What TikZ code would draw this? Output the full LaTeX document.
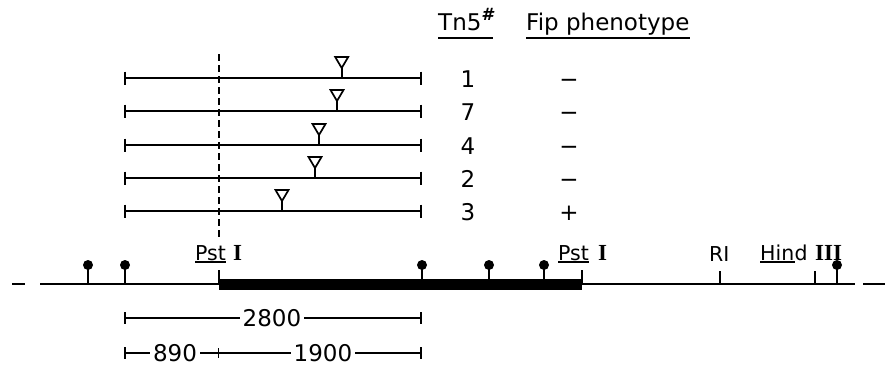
\documentclass[tikz,border=0pt]{standalone}
\usepackage{fontspec}
\setmainfont{DejaVu Sans}
\newfontfamily\romfont{Liberation Serif}
\begin{document}
\begin{tikzpicture}[x=1pt,y=-1pt,
  map/.style={line width=1.7pt},
  dim/.style={line width=1.3pt},
  big/.style={font=\fontsize{23}{25}\selectfont, inner sep=0pt},
  small/.style={font=\fontsize{20.5}{22}\selectfont, inner sep=0pt},
  roman/.style={font=\fontsize{23}{25}\romfont\bfseries, inner sep=0pt},
  dimlabel/.style={big, inner xsep=3pt},
  lolli/.style={map},
  sitetick/.style={map}]
\useasboundingbox (0,0) rectangle (885,367);

% column headings
\node[big,anchor=base west] (tn) at (438,30)
  {Tn5\raisebox{0.40em}{\fontsize{17}{17}\selectfont\bfseries\itshape\#}};
\draw[dim] ([yshift=-8pt]tn.base west) -- ([yshift=-8pt]tn.base east);
\node[big,anchor=base west] (fip) at (526,30) {Fip phenotype};
\draw[dim] ([yshift=-8pt]fip.base west) -- ([yshift=-8pt]fip.base east);

% cloned fragments with Tn5 insertion sites
\foreach \y/\t/\n/\p in {78/341.7/1/−, 111/337/7/−, 145/319/4/−, 178/315/2/−, 211/282/3/+}{
  \draw[map] (125,\y) coordinate (L\n) -- (421,\y) coordinate (R\n);
  \draw[map] (L\n) ++(0,-6.5) -- ++(0,13);
  \draw[map] (R\n) ++(0,-6.5) -- ++(0,13);
  \draw[map] (\t,\y) coordinate (ins\n) -- ++(0,-10) coordinate (tip\n);
  \draw[map,line join=miter] (tip\n) -- ++(-6.5,-11) -- ++(13,0) -- cycle;
  \node[big,anchor=base] (num\n) at (468,\y+9) {\n};
  \node[big,anchor=base] (phe\n) at (569,\y+9) {\p};
}

% PstI boundary (dashed guide)
\draw[map,dash pattern=on 7pt off 4pt] (219,54) -- (219,238);

% restriction map
\draw[map] (12,284) -- (25,284);
\draw[map] (40,284) coordinate (mapL) -- (855,284) coordinate (mapR);
\draw[map] (863,284) -- (885,284);
\fill (219,279) rectangle (582,290);

\draw[sitetick] (219,270) -- (219,284);
\draw[sitetick] (582,270) -- (582,284);
\draw[sitetick] (720,271) -- (720,284);
\draw[sitetick] (815,271) -- (815,284);

\foreach \x in {88,125,422,489,544,837}{
  \fill (\x,265) circle (5);
  \draw[lolli] (\x,265) -- (\x,284);
}

% site labels
\node[small,anchor=base west] (pstA) at (195,260) {Pst};
\draw[dim] ([yshift=-2pt]pstA.base west) -- ([yshift=-2pt]pstA.base east);
\node[roman,anchor=base west] (pstAi) at (233,260) {I};
\node[small,anchor=base west] (pstB) at (558,260) {Pst};
\draw[dim] ([yshift=-2pt]pstB.base west) -- ([yshift=-2pt]pstB.base east);
\node[roman,anchor=base west] (pstBi) at (598,260) {I};
\node[small,anchor=base west] (ri) at (709,261) {RI};
\node[small,anchor=base west] (hin) at (760,260) {Hin};
\draw[dim] ([yshift=-2pt]hin.base west) -- ([yshift=-2pt]hin.base east);
\node[small,anchor=base west] (hind) at (hin.base east) {d};
\node[roman,anchor=base west] (hindiii) at (815,260) {III};

% distances
\coordinate (a1) at (125,318);
\coordinate (a2) at (421,318);
\node[dimlabel] (d2800) at (272,318) {2800};
\draw[dim] (a1) -- (d2800.west);
\draw[dim] (d2800.east) -- (a2);
\draw[dim] (a1) ++(0,-6) -- ++(0,12);
\draw[dim] (a2) ++(0,-6) -- ++(0,12);

\coordinate (b1) at (125,353);
\coordinate (b2) at (218.5,353);
\coordinate (b3) at (421,353);
\node[dimlabel] (d890) at (175,353) {890};
\node[dimlabel] (d1900) at (323,353) {1900};
\draw[dim] (b1) -- (d890.west);
\draw[dim] (d890.east) -- (b2) -- (d1900.west);
\draw[dim] (d1900.east) -- (b3);
\draw[dim] (b1) ++(0,-6) -- ++(0,12);
\draw[dim] (b2) ++(0,-5) -- ++(0,10);
\draw[dim] (b3) ++(0,-6) -- ++(0,12);
\end{tikzpicture}
\end{document}
